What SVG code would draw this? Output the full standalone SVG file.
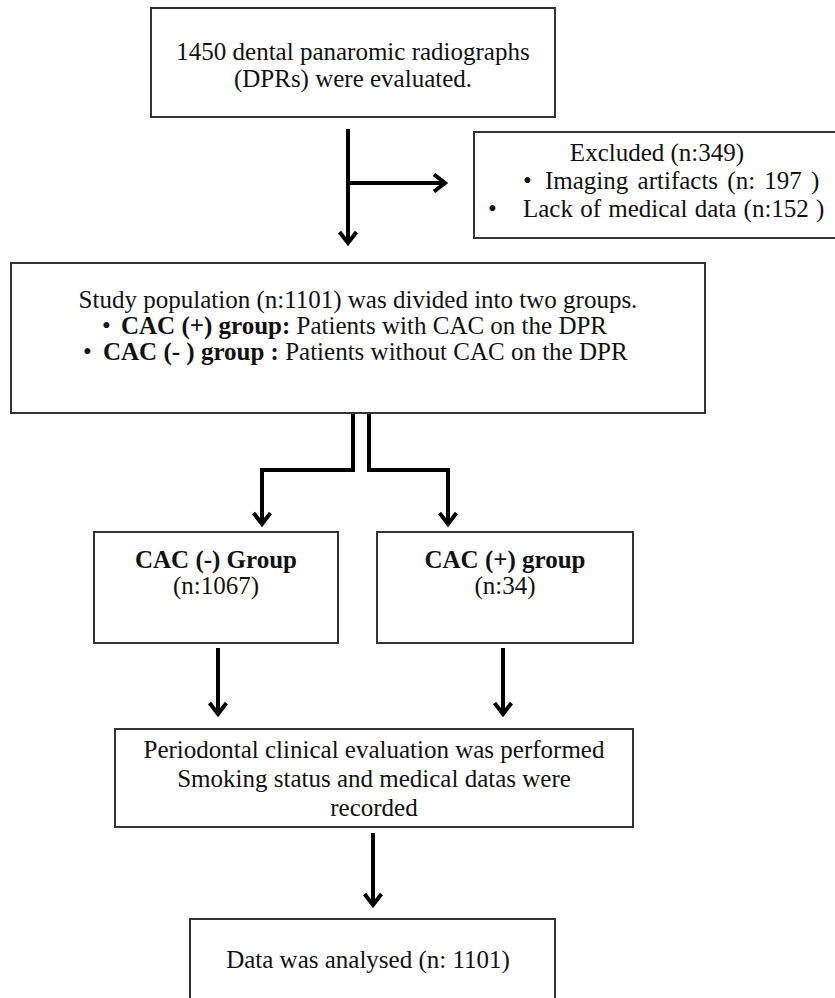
<svg xmlns="http://www.w3.org/2000/svg" width="835" height="998" viewBox="0 0 835 998">
<defs>
<marker id="ah" markerUnits="userSpaceOnUse" viewBox="0 0 20 20" markerWidth="20" markerHeight="20" refX="16" refY="10" orient="auto">
<path d="M5,1.5 L16,10 L5,18.5" fill="none" stroke="#000" stroke-width="4"/>
</marker>
</defs>
<style>
.box{fill:#fff;stroke:#333;stroke-width:2}
.t{font-family:"Liberation Serif","Times New Roman",serif;font-size:25px;fill:#111}
.c{text-anchor:middle}
.b{font-weight:bold}
.ln{fill:none;stroke:#000;stroke-width:4;marker-end:url(#ah)}
</style>
<rect width="835" height="998" fill="#fff"/>
<g id="connectors">
<path class="ln" d="M348,129 V243"/>
<path class="ln" d="M350,183 H445"/>
<path class="ln" d="M353,413 V470 H262 V524"/>
<path class="ln" d="M369,413 V470 H448 V524"/>
<path class="ln" d="M218,648 V714"/>
<path class="ln" d="M503,648 V714"/>
<path class="ln" d="M373,833 V905"/>
</g>
<g id="n1">
<rect class="box" x="151" y="8" width="404" height="109"/>
<text class="t c" x="353" y="60">1450 dental panaromic radiographs</text>
<text class="t c" x="353" y="87">(DPRs) were evaluated.</text>
</g>
<g id="n2">
<rect class="box" x="474" y="132" width="370" height="106"/>
<text class="t c" x="657" y="161">Excluded (n:349)</text>
<text class="t" y="189"><tspan x="523">•</tspan><tspan x="545" word-spacing="3">Imaging artifacts (n: 197 )</tspan></text>
<text class="t" y="217"><tspan x="488">•</tspan><tspan x="523" word-spacing="1">Lack of medical data (n:152  )</tspan></text>
</g>
<g id="n3">
<rect class="box" x="11" y="263" width="694" height="150"/>
<text class="t c" x="358" y="308">Study population (n:1101) was divided into two groups.</text>
<text class="t" y="334"><tspan x="102">•</tspan><tspan x="121" class="b">CAC (+) group:</tspan><tspan> Patients with CAC on the DPR</tspan></text>
<text class="t" y="360"><tspan x="83">•</tspan><tspan x="103" class="b">CAC (- ) group :</tspan><tspan> Patients without CAC on the DPR</tspan></text>
</g>
<g id="n4">
<rect class="box" x="94" y="532" width="244" height="111"/>
<text class="t c b" x="216" y="568">CAC (-) Group</text>
<text class="t c" x="216" y="594">(n:1067)</text>
</g>
<g id="n5">
<rect class="box" x="377" y="532" width="256" height="111"/>
<text class="t c b" x="505" y="568">CAC (+) group</text>
<text class="t c" x="505" y="594">(n:34)</text>
</g>
<g id="n6">
<rect class="box" x="115" y="729" width="518" height="98"/>
<text class="t c" x="374" y="758">Periodontal clinical evaluation was performed</text>
<text class="t c" x="374" y="787">Smoking status and medical datas were</text>
<text class="t c" x="374" y="816">recorded</text>
</g>
<g id="n7">
<rect class="box" x="190" y="919" width="365" height="90"/>
<text class="t c" x="368" y="968">Data was analysed (n: 1101)</text>
</g>
</svg>
